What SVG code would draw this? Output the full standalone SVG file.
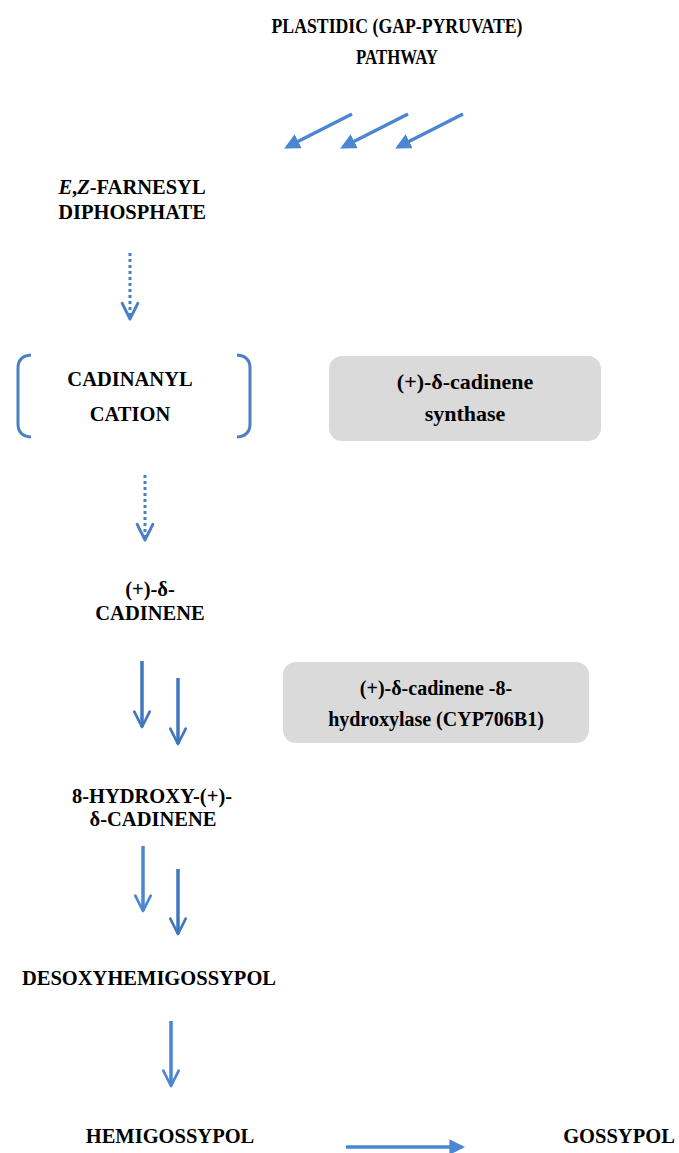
<svg xmlns="http://www.w3.org/2000/svg" width="679" height="1153" viewBox="0 0 679 1153">
<style>
.t{font-family:"Liberation Serif",serif;font-weight:bold;fill:#000;text-anchor:middle}
.s{font-size:20.5px}
.b{font-size:22px}
.b2{font-size:20px}
.h{font-size:21px}
.a{stroke:#4a86d1;stroke-width:3.5;fill:none}
.d{stroke:#3f76bd;stroke-width:3.5;fill:none}
.dot{stroke:#4a7fc4;stroke-width:3;stroke-dasharray:3,3;fill:none}
.box{fill:#dadada}
</style>
<defs>
<marker id="tri" viewBox="0 0 10 10" refX="8" refY="5" markerWidth="4.5" markerHeight="4.5" orient="auto" markerUnits="strokeWidth">
<path d="M0,0 L10,5 L0,10 z" fill="#4a86d1"/>
</marker>
<marker id="vee" viewBox="0 0 10 10" refX="9" refY="5" markerWidth="5.5" markerHeight="5.5" orient="auto" markerUnits="strokeWidth">
<path d="M1,1 L9,5 L1,9" fill="none" stroke="#4a86d1" stroke-width="1.4" stroke-linecap="round" stroke-linejoin="round"/>
</marker>
<marker id="veed" viewBox="0 0 10 10" refX="9" refY="5" markerWidth="5.5" markerHeight="5.5" orient="auto" markerUnits="strokeWidth">
<path d="M1,1 L9,5 L1,9" fill="none" stroke="#3f76bd" stroke-width="1.4" stroke-linecap="round" stroke-linejoin="round"/>
</marker>
<marker id="veedot" viewBox="0 0 10 10" refX="9" refY="5" markerWidth="6.5" markerHeight="6.5" orient="auto" markerUnits="strokeWidth">
<path d="M1,1 L9,5 L1,9" fill="none" stroke="#4a7fc4" stroke-width="1.5" stroke-linecap="round" stroke-linejoin="round"/>
</marker>
</defs>
<g id="title"><text class="t h" x="397" y="33" textLength="251" lengthAdjust="spacingAndGlyphs">PLASTIDIC (GAP-PYRUVATE)</text><text class="t h" x="397" y="64" textLength="82" lengthAdjust="spacingAndGlyphs">PATHWAY</text></g>
<g id="farnesyl"><text class="t s" x="132" y="194"><tspan font-style="italic">E</tspan>,<tspan font-style="italic">Z</tspan>-FARNESYL</text><text class="t s" x="132" y="219">DIPHOSPHATE</text></g>
<g id="cation">
<path d="M31,355 Q18,356 18,368 L18,424 Q18,436 31,437" fill="none" stroke="#4a7fc4" stroke-width="3"/>
<path d="M237,355 Q250,356 250,368 L250,424 Q250,436 237,437" fill="none" stroke="#4a7fc4" stroke-width="3"/>
<text class="t s" x="130" y="386">CADINANYL</text><text class="t s" x="130" y="421">CATION</text></g>
<g id="synthase"><rect class="box" x="329" y="356" width="272" height="85" rx="13"/><text class="t b" x="465" y="389">(+)-δ-cadinene</text><text class="t b" x="465" y="421">synthase</text></g>
<g id="cadinene"><text class="t s" x="150" y="596">(+)-δ-</text><text class="t s" x="150" y="620">CADINENE</text></g>
<g id="hydroxylase"><rect class="box" x="283" y="662" width="306" height="81" rx="13"/><text class="t b2" x="436" y="695">(+)-δ-cadinene -8-</text><text class="t b2" x="436" y="726">hydroxylase (CYP706B1)</text></g>
<g id="hydroxy"><text class="t s" x="152" y="803">8-HYDROXY-(+)-</text><text class="t s" x="153" y="826">δ-CADINENE</text></g>
<g id="desoxy"><text class="t s" x="149" y="985">DESOXYHEMIGOSSYPOL</text></g>
<g id="hemi"><text class="t s" x="170" y="1143">HEMIGOSSYPOL</text></g>
<g id="gossypol"><text class="t s" x="619" y="1143">GOSSYPOL</text></g>
<g id="connectors">
<line class="a" x1="352" y1="114" x2="287" y2="147" marker-end="url(#tri)"/>
<line class="a" x1="408" y1="114" x2="343" y2="147" marker-end="url(#tri)"/>
<line class="a" x1="463" y1="114" x2="398" y2="147" marker-end="url(#tri)"/>
<line class="dot" x1="130" y1="253" x2="130" y2="319" marker-end="url(#veedot)"/>
<line class="dot" x1="145" y1="475" x2="145" y2="540" marker-end="url(#veedot)"/>
<line class="d" x1="142" y1="661" x2="142" y2="727" marker-end="url(#veed)"/>
<line class="d" x1="178" y1="678" x2="178" y2="744" marker-end="url(#veed)"/>
<line class="a" x1="143" y1="846" x2="143" y2="911" marker-end="url(#vee)"/>
<line class="d" x1="178" y1="869" x2="178" y2="934" marker-end="url(#veed)"/>
<line class="a" x1="171" y1="1021" x2="171" y2="1086" marker-end="url(#vee)"/>
<line class="a" x1="346" y1="1147" x2="462" y2="1147" marker-end="url(#tri)"/>
</g>
</svg>
